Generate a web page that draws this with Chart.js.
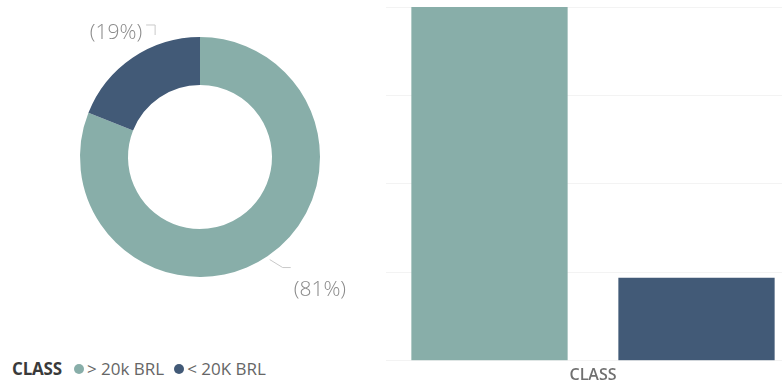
<!DOCTYPE html>
<html>
<head>
<meta charset="utf-8">
<script src="https://cdn.jsdelivr.net/npm/chart.js@4"></script>
<style>
    html, body { margin: 0; padding: 0; background: #fff; }
    body { width: 782px; height: 385px; position: relative; overflow: hidden; font-family: "Open Sans", "Noto Sans", sans-serif; }
    #donut-wrap { position: absolute; left: 0; top: 0; width: 390px; height: 340px; }
    #bar-wrap { position: absolute; left: 386px; top: 0; width: 414px; height: 385px; }
    #legend { position: absolute; left: 12px; top: 358px; font-size: 17px; color: #666; white-space: nowrap; line-height: 22px; }
    #legend .title { font-weight: 700; color: #3a3a3a; margin-right: 12px; letter-spacing: -0.2px; }
    #legend .dot { display: inline-block; width: 10px; height: 10px; border-radius: 50%; margin-right: 3px; vertical-align: 1px; }
    #legend .item { margin-right: 10px; }
</style>
</head>
<body>
<div id="donut-wrap"><canvas id="donut-chart"></canvas></div>
<div id="bar-wrap"><canvas id="bar-chart"></canvas></div>
<div id="legend"></div>

<script>
const classes = ['> 20k BRL', '< 20K BRL'];
const shares = [81, 19];
const classColors = ['#88aea9', '#425a77'];
const axisTitle = 'CLASS';

// where each percentage label sits relative to its slice (leader line bend, text offset)
const labelLayout = [
    { angleShift: 0, gap: 4, bend: [13, 8], tail: 8, textDx: 3, textDy: 22 },
    { angleShift: 14, gap: 10, bend: [0, -10], tail: -9, textDx: -4, textDy: 8 }
];

function renderLegend() {
    var html = '<span class="title">' + axisTitle + '</span>';
    html += classes.map(function(c, i) {
        return '<span class="item"><span class="dot" style="background:' + classColors[i] + '"></span>' + c + '</span>';
    }).join('');
    document.getElementById('legend').innerHTML = html;
}

const donutLabels = {
    id: 'donutLabels',
    afterDraw: function(chart) {
        var ctx = chart.ctx;
        var arcs = chart.getDatasetMeta(0).data;
        var total = shares.reduce(function(a, b) { return a + b; }, 0);
        ctx.save();
        ctx.font = '300 21px "Open Sans", sans-serif';
        ctx.fillStyle = '#8a8a8a';
        ctx.strokeStyle = '#c9c9c9';
        ctx.lineWidth = 1;
        arcs.forEach(function(arc, i) {
            var lay = labelLayout[i];
            var a = (arc.startAngle + arc.endAngle) / 2 + lay.angleShift * Math.PI / 180;
            var r = arc.outerRadius + lay.gap;
            var x0 = arc.x + r * Math.cos(a), y0 = arc.y + r * Math.sin(a);
            var x1 = x0 + lay.bend[0], y1 = y0 + lay.bend[1];
            var x2 = x1 + lay.tail;
            ctx.beginPath();
            ctx.moveTo(x0, y0);
            ctx.lineTo(x1, y1);
            ctx.lineTo(x2, y1);
            ctx.stroke();
            var txt = '(' + Math.round(shares[i] / total * 100) + '%)';
            ctx.textAlign = lay.tail >= 0 ? 'left' : 'right';
            ctx.textBaseline = 'middle';
            ctx.fillText(txt, x2 + lay.textDx, y1 + lay.textDy);
        });
        ctx.restore();
    }
};

function renderDonut() {
    var ctx = document.getElementById('donut-chart').getContext('2d');
    new Chart(ctx, {
        type: 'doughnut',
        data: {
            labels: classes,
            datasets: [{
                data: shares,
                backgroundColor: classColors,
                borderWidth: 0
            }]
        },
        options: {
            responsive: true,
            maintainAspectRatio: false,
            animation: false,
            cutout: '60%',
            layout: { padding: { left: 80, right: 70, top: 37, bottom: 63 } },
            plugins: {
                legend: { display: false },
                tooltip: { enabled: false }
            }
        },
        plugins: [donutLabels]
    });
}

function renderBars() {
    var ctx = document.getElementById('bar-chart').getContext('2d');
    new Chart(ctx, {
        type: 'bar',
        data: {
            labels: classes,
            datasets: [{
                data: shares,
                backgroundColor: classColors,
                borderWidth: 0,
                categoryPercentage: 1,
                barPercentage: 0.755
            }]
        },
        options: {
            responsive: true,
            maintainAspectRatio: false,
            animation: false,
            layout: { padding: { top: 7, bottom: 0, left: 0, right: 0 } },
            plugins: {
                legend: { display: false },
                tooltip: { enabled: false }
            },
            scales: {
                x: {
                    grid: { display: false, drawTicks: false },
                    border: { display: false },
                    ticks: { display: false },
                    title: {
                        display: true,
                        text: axisTitle,
                        color: '#707070',
                        font: { family: '"Open Sans", sans-serif', size: 16, weight: '600' },
                        padding: { top: 5, bottom: 0 }
                    }
                },
                y: {
                    min: 0,
                    max: 81,
                    ticks: { display: false, stepSize: 20.25 },
                    grid: { color: '#f3f3f3', drawTicks: false },
                    border: { display: false }
                }
            }
        }
    });
}

document.addEventListener('DOMContentLoaded', function() {
    renderLegend();
    renderDonut();
    renderBars();
});
</script>
</body>
</html>
